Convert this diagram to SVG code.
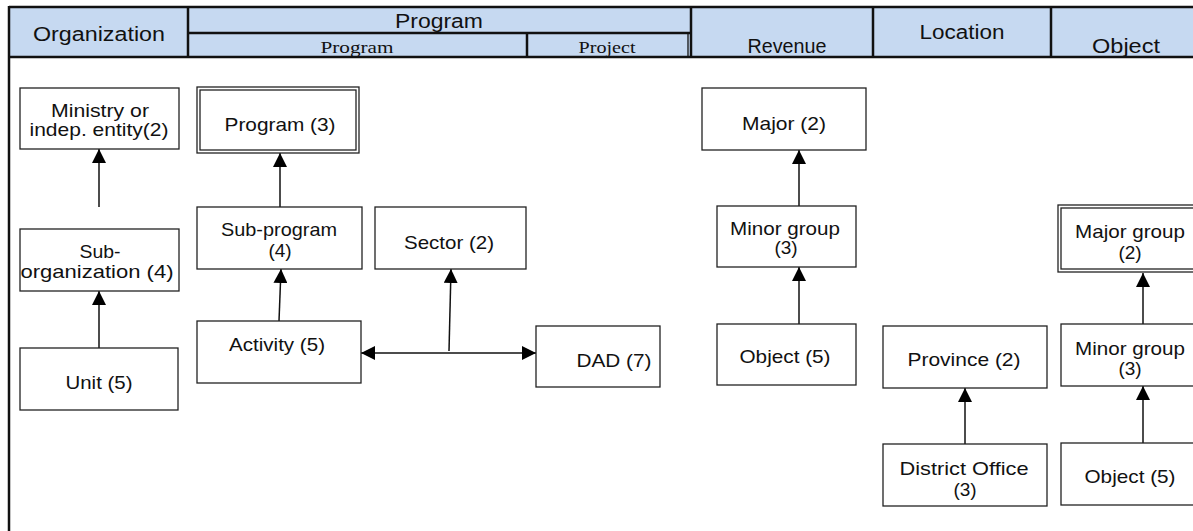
<svg xmlns="http://www.w3.org/2000/svg" width="1193" height="531" viewBox="0 0 1193 531">
<style>
.hd{fill:#c6d9f1;stroke:none}
.thick{stroke:#111;stroke-width:2.5;fill:none}
.thin{stroke:#111;stroke-width:1.3;fill:none}
.box{fill:#fff;stroke:#222;stroke-width:1.3}
.t{font-family:"Liberation Sans",Arial,sans-serif;font-size:19px;fill:#111;text-anchor:middle}
.h{font-family:"Liberation Sans",Arial,sans-serif;font-size:20px;fill:#111;text-anchor:middle}
.s{font-family:"Liberation Serif","Times New Roman",serif;font-size:17px;fill:#111;text-anchor:middle}
.c{stroke:#111;stroke-width:1.5;fill:none;marker-end:url(#arr)}
</style>
<defs>
<marker id="arr" markerUnits="userSpaceOnUse" markerWidth="14" markerHeight="14" viewBox="0 0 12 12" refX="12" refY="6" orient="auto">
<path d="M0,0 L12,6 L0,12 Z" fill="#000"/>
</marker>
</defs>
<rect width="1193" height="531" fill="#fff"/>
<g id="header">
<rect class="hd" x="9" y="7" width="1184" height="50"/>
<line class="thick" x1="9" y1="7" x2="1193" y2="7"/>
<line class="thick" x1="9" y1="57" x2="1193" y2="57"/>
<line class="thick" x1="9" y1="6" x2="9" y2="531"/>
<line class="thick" x1="188" y1="7" x2="188" y2="57"/>
<line class="thick" x1="188" y1="33" x2="691" y2="33"/>
<line class="thick" x1="527" y1="33" x2="527" y2="57"/>
<line class="thin" x1="688" y1="33" x2="688" y2="57"/>
<line class="thick" x1="691" y1="7" x2="691" y2="57"/>
<line class="thick" x1="873" y1="7" x2="873" y2="57"/>
<line class="thick" x1="1051" y1="7" x2="1051" y2="57"/>
<text class="h" x="99" y="41" textLength="132" lengthAdjust="spacingAndGlyphs">Organization</text>
<text class="h" x="439" y="28" textLength="88" lengthAdjust="spacingAndGlyphs">Program</text>
<text class="s" x="357" y="53" textLength="73" lengthAdjust="spacingAndGlyphs">Program</text>
<text class="s" x="607" y="53" textLength="57" lengthAdjust="spacingAndGlyphs">Project</text>
<text class="h" x="787" y="53" textLength="79" lengthAdjust="spacingAndGlyphs">Revenue</text>
<text class="h" x="962" y="39" textLength="85" lengthAdjust="spacingAndGlyphs">Location</text>
<text class="h" x="1126" y="53" textLength="68" lengthAdjust="spacingAndGlyphs">Object</text>
</g>
<g id="connectors">
<path class="c" d="M99,207 L99,149"/>
<path class="c" d="M99,348 L99,291"/>
<path class="c" d="M280,207 L280,153"/>
<path class="c" d="M279,321 L281,269"/>
<path class="c" d="M449,351 L451,269"/>
<path class="c" d="M449,353 L361,353"/>
<path class="c" d="M449,353 L536,353"/>
<path class="c" d="M799,206 L799,150"/>
<path class="c" d="M799,324 L799,267"/>
<path class="c" d="M965,444 L965,388"/>
<path class="c" d="M1143,324 L1143,273"/>
<path class="c" d="M1143,443 L1143,386"/>
</g>
<g id="n-ministry">
<rect class="box" x="20" y="88" width="159" height="61"/>
<text class="t" x="100" y="117" textLength="98" lengthAdjust="spacingAndGlyphs">Ministry or</text>
<text class="t" x="99" y="136" textLength="139" lengthAdjust="spacingAndGlyphs">indep. entity(2)</text>
</g>
<g id="n-program">
<rect class="box" x="197" y="87" width="162" height="66"/>
<rect class="box" x="200" y="90" width="156" height="60"/>
<text class="t" x="280" y="131" textLength="111" lengthAdjust="spacingAndGlyphs">Program  (3)</text>
</g>
<g id="n-suborg">
<rect class="box" x="20" y="229" width="159" height="62"/>
<text class="t" x="100" y="258" textLength="41" lengthAdjust="spacingAndGlyphs">Sub-</text>
<text class="t" x="97" y="278" textLength="153" lengthAdjust="spacingAndGlyphs">organization (4)</text>
</g>
<g id="n-unit">
<rect class="box" x="20" y="348" width="158" height="62"/>
<text class="t" x="99" y="389" textLength="67" lengthAdjust="spacingAndGlyphs">Unit (5)</text>
</g>
<g id="n-subprogram">
<rect class="box" x="197" y="207" width="165" height="62"/>
<text class="t" x="279" y="236" textLength="116" lengthAdjust="spacingAndGlyphs">Sub-program</text>
<text class="t" x="280" y="257">(4)</text>
</g>
<g id="n-sector">
<rect class="box" x="375" y="207" width="151" height="62"/>
<text class="t" x="449" y="249" textLength="90" lengthAdjust="spacingAndGlyphs">Sector (2)</text>
</g>
<g id="n-activity">
<rect class="box" x="197" y="321" width="164" height="62"/>
<text class="t" x="277" y="351" textLength="96" lengthAdjust="spacingAndGlyphs">Activity (5)</text>
</g>
<g id="n-dad">
<rect class="box" x="536" y="326" width="124" height="61"/>
<text class="t" x="614" y="367" textLength="75" lengthAdjust="spacingAndGlyphs">DAD (7)</text>
</g>
<g id="n-major">
<rect class="box" x="702" y="88" width="164" height="62"/>
<text class="t" x="784" y="130" textLength="84" lengthAdjust="spacingAndGlyphs">Major (2)</text>
</g>
<g id="n-rev-minor">
<rect class="box" x="717" y="206" width="139" height="61"/>
<text class="t" x="785" y="235" textLength="110" lengthAdjust="spacingAndGlyphs">Minor group</text>
<text class="t" x="786" y="254">(3)</text>
</g>
<g id="n-rev-object">
<rect class="box" x="717" y="324" width="139" height="61"/>
<text class="t" x="785" y="363" textLength="91" lengthAdjust="spacingAndGlyphs">Object (5)</text>
</g>
<g id="n-province">
<rect class="box" x="883" y="326" width="164" height="62"/>
<text class="t" x="964" y="366" textLength="113" lengthAdjust="spacingAndGlyphs">Province  (2)</text>
</g>
<g id="n-district">
<rect class="box" x="883" y="444" width="164" height="62"/>
<text class="t" x="964" y="475" textLength="129" lengthAdjust="spacingAndGlyphs">District  Office</text>
<text class="t" x="965" y="496">(3)</text>
</g>
<g id="n-majorgroup">
<rect class="box" x="1058" y="205" width="146" height="67"/>
<rect class="box" x="1061" y="208" width="140" height="61"/>
<text class="t" x="1130" y="238" textLength="110" lengthAdjust="spacingAndGlyphs">Major group</text>
<text class="t" x="1130" y="259">(2)</text>
</g>
<g id="n-obj-minor">
<rect class="box" x="1061" y="324" width="140" height="62"/>
<text class="t" x="1130" y="355" textLength="110" lengthAdjust="spacingAndGlyphs">Minor group</text>
<text class="t" x="1130" y="375">(3)</text>
</g>
<g id="n-obj-object">
<rect class="box" x="1061" y="443" width="140" height="62"/>
<text class="t" x="1130" y="483" textLength="91" lengthAdjust="spacingAndGlyphs">Object (5)</text>
</g>
</svg>
